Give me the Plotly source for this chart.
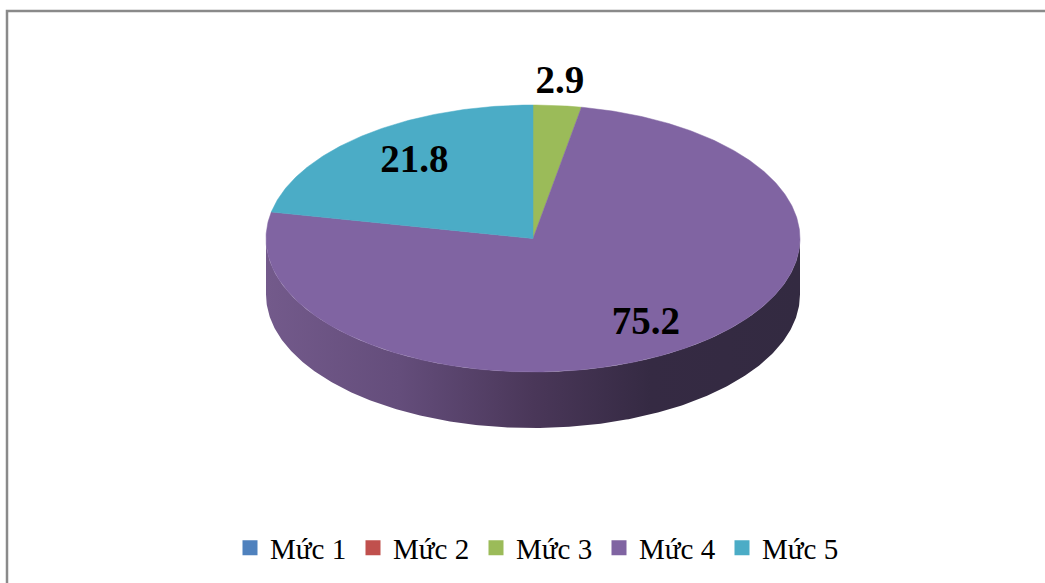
import numpy as np
import plotly.graph_objects as go

# ---- data ----
categories = ["Mức 1", "Mức 2", "Mức 3", "Mức 4", "Mức 5"]
values = [0, 0, 2.9, 75.2, 21.8]
labels = ["", "", "2.9", "75.2", "21.8"]

# ---- styling ----
colors = ["#4F81BD", "#C0504D", "#9BBB59", "#8064A2", "#4BACC6"]
label_radius = [0, 0, 1.19, 0.755, 0.72]
label_shift_px = [(0, 0), (0, 0), (-2, 3), (0, 2), (3, -1.5)]
side_scale = [[0, "#735A8B"], [0.25, "#644D7B"], [0.5, "#4A3759"], [0.72, "#352A43"], [1, "#332A41"]]
W, H = 1045, 583
CX, CY, RX, RY, DEPTH = 533, 238.5, 267, 133.5, 56
FONT = "Liberation Serif"

total = sum(values)
edges = np.concatenate([[0], np.cumsum(values)]) / total * 2 * np.pi


def arc(a0, a1):
    n = max(2, int(abs(a1 - a0) / 0.01))
    t = np.linspace(a0, a1, n)
    return np.sin(t), np.cos(t)


fig = go.Figure()

# extruded rim: the front half of the disc
fx, fy = arc(np.pi / 2, 3 * np.pi / 2)
d = DEPTH / RY
fig.add_trace(go.Scatter(
    x=np.concatenate([fx, fx[::-1]]), y=np.concatenate([fy, fy[::-1] - d]),
    mode="lines", fill="toself", line=dict(width=0), hoverinfo="skip", showlegend=False,
    fillgradient=dict(type="horizontal", colorscale=side_scale),
    fillcolor="#4A3759",
))

# top face slices
for i, name in enumerate(categories):
    if values[i] <= 0:
        continue
    ax, ay = arc(edges[i], edges[i + 1])
    fig.add_trace(go.Scatter(
        x=np.concatenate([[0], ax, [0]]), y=np.concatenate([[0], ay, [0]]),
        mode="lines", fill="toself", fillcolor=colors[i], line=dict(width=0.5, color=colors[i]),
        name=name, showlegend=False, hoverinfo="name",
    ))

# legend entries
for i, name in enumerate(categories):
    fig.add_trace(go.Scatter(
        x=[None], y=[None], mode="markers", name=name,
        marker=dict(symbol="square", size=15, color=colors[i]),
    ))

# value labels
mid = (edges[:-1] + edges[1:]) / 2
idx = [i for i in range(len(values)) if labels[i]]
fig.add_trace(go.Scatter(
    x=[np.sin(mid[i]) * label_radius[i] + label_shift_px[i][0] / RX for i in idx],
    y=[np.cos(mid[i]) * label_radius[i] - label_shift_px[i][1] / RY for i in idx],
    text=[labels[i] for i in idx], mode="text", textposition="middle center",
    textfont=dict(family=FONT, size=39, color="#000000", weight="bold"),
    showlegend=False, hoverinfo="skip", cliponaxis=False,
))

fig.update_layout(
    width=W, height=H, margin=dict(l=0, r=0, t=0, b=0),
    paper_bgcolor="#FFFFFF", plot_bgcolor="#FFFFFF",
    xaxis=dict(range=[-CX / RX, (W - CX) / RX], visible=False, fixedrange=True),
    yaxis=dict(range=[-(H - CY) / RY, CY / RY], visible=False, fixedrange=True),
    font=dict(family=FONT, color="#000000"),
    legend=dict(
        orientation="h", x=230 / W, xanchor="left", y=1 - 548 / H, yanchor="middle",
        font=dict(family=FONT, size=29), bgcolor="rgba(0,0,0,0)",
        entrywidth=78, entrywidthmode="pixels",
        traceorder="normal",
    ),
    shapes=[dict(
        type="path", xref="paper", yref="paper", layer="above",
        path=f"M {7/W} 0 L {7/W} {1-11/H} L 1 {1-11/H}",
        line=dict(color="#8A8A8A", width=2.5),
    )],
)

fig.write_html("out.html", config=dict(displayModeBar=False),
               post_script="document.body.style.margin='0';")
